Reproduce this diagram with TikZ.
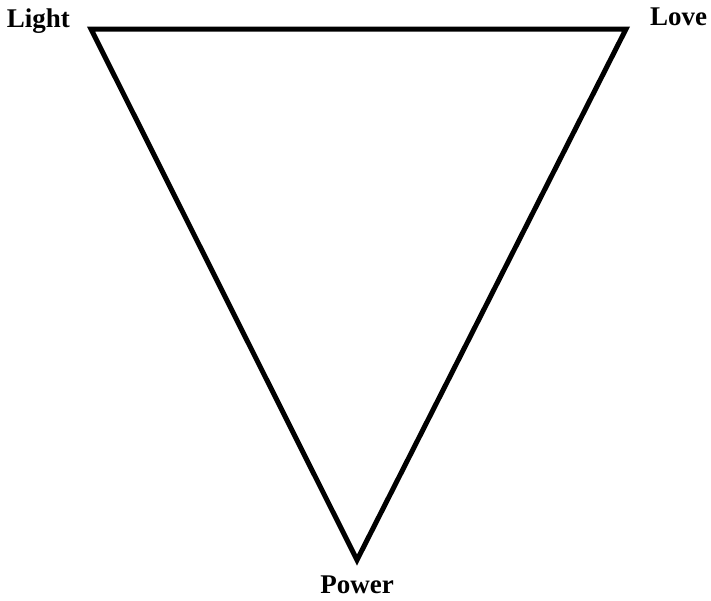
\documentclass[tikz,border=0pt]{standalone}
\usepackage{fontspec}
\setmainfont{Liberation Serif}
\usepackage{tikz}
\usetikzlibrary{positioning}

\begin{document}
\begin{tikzpicture}[
    x=1pt, y=-1pt,
    side/.style={draw, line width=5pt, line join=miter},
    every node/.style={inner sep=0pt, font=\fontsize{27}{32}\selectfont\bfseries}
]
    \useasboundingbox (0,0) rectangle (711,600);
    % corners of the triangle
    \coordinate (light) at (91,29);
    \coordinate (love) at (626,29);
    \coordinate (power) at (357,560);
    \draw[side] (light) -- (love) -- (power) -- cycle;
    % labels
    \node[anchor=base east] (lightlabel) at (70,27) {Light};
    \node[anchor=base west] (lovelabel) at (650,25) {Love};
    \node[anchor=base] (powerlabel) at (357,593) {Power};
\end{tikzpicture}
\end{document}
